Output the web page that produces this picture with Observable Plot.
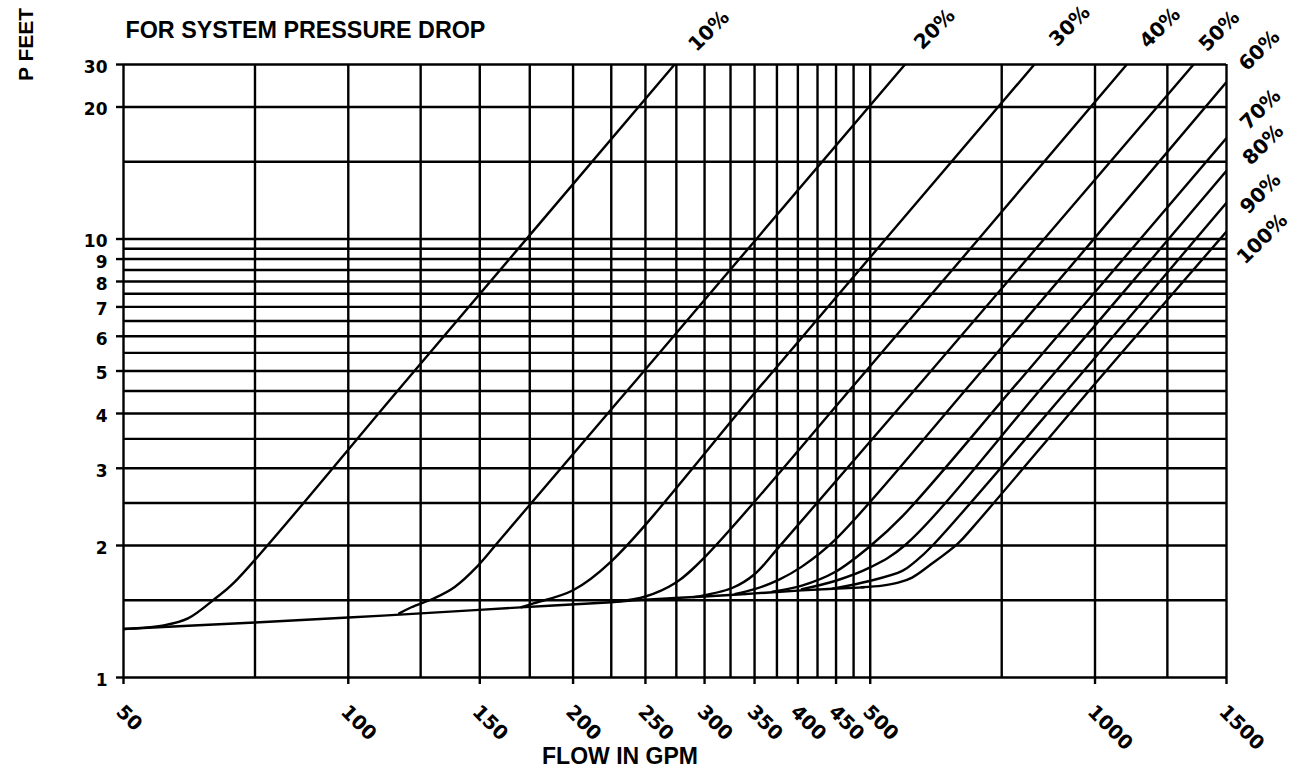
<!DOCTYPE html>
<html><head><meta charset="utf-8">
<script src="https://cdn.jsdelivr.net/npm/d3@7"></script>
<script src="https://cdn.jsdelivr.net/npm/@observablehq/plot@0.6"></script>
<style>body{margin:0;background:#fff}</style>
</head><body><div id="chart"></div>
<script>
// Axis ticks and grid
const xTicks = [50,100,150,200,250,300,350,400,450,500,1000,1500];
const xGrid = [50,75,100,125,150,175,200,225,250,275,300,325,350,375,400,425,450,475,500,750,1000,1250,1500];
const yTicks = [1,2,3,4,5,6,7,8,9,10,20,25];
const yTickLabels = ["1","2","3","4","5","6","7","8","9","10","20","30"];
const yGrid = [1,1.5,2,2.5,3,3.5,4,4.5,5,5.5,6,6.5,7,7.5,8,8.5,9,9.5,10,15,20,25];

// Curve names and label anchors (flow, feet)
const seriesNames = ["10%","20%","30%","40%","50%","60%","70%","80%","90%","100%"];
const labelFlow = [304,610,925,1222,1467,1660,1666,1680,1666,1675];
const labelFeet = [29.8,30.1,30.6,30.3,29.8,26.9,19.75,16.4,12.7,10.0];

// Common low-flow line
const baseFlow = [50,75,100,125,170,225,250,300,350,405,490];
const baseFeet = [1.29,1.335,1.37,1.40,1.445,1.485,1.505,1.53,1.555,1.58,1.605];

// Curves (flow GPM, feet)
const flow10 = [50,56.6,61,66.4,70.3,120,273.5];
const feet10 = [1.29,1.315,1.364,1.516,1.645,4.79,25];
const flow20 = [117,121.5,130.3,138.7,149.2,160,243.6,561];
const feet20 = [1.40,1.446,1.516,1.607,1.80,2.07,4.79,25.4];
const flow30 = [170.5,177.4,200,225,363,836];
const feet30 = [1.446,1.477,1.581,1.84,4.79,25.4];
const flow40 = [229,250,273.7,300,483,1103];
const feet40 = [1.49,1.53,1.64,1.88,4.79,25];
const flow50 = [290,326.6,350,377,590,1366];
const feet50 = [1.525,1.6,1.72,1.98,4.79,25.4];
const flow60 = [330,350,377,405,448.6,690,1500];
const feet60 = [1.55,1.59,1.67,1.79,2.06,4.79,22.8];
const flow70 = [370,405,448.6,501,552,795,1500];
const feet70 = [1.57,1.62,1.74,2.0,2.33,4.79,17.0];
const flow80 = [405,448.6,499,556,868,1500];
const feet80 = [1.59,1.66,1.78,2.0,4.79,14.3];
const flow90 = [445,499,552,575,606,945,1500];
const feet90 = [1.595,1.66,1.75,1.84,2.0,4.79,12.1];
const flow100 = [487,519,545,569,600,655,686,1012,1500];
const feet100 = [1.606,1.62,1.645,1.69,1.80,2.02,2.2,4.79,10.4];

const curveFlows = [baseFlow,flow10,flow20,flow30,flow40,flow50,flow60,flow70,flow80,flow90,flow100];
const curveFeet = [baseFeet,feet10,feet20,feet30,feet40,feet50,feet60,feet70,feet80,feet90,feet100];
const curveIds = ["base", ...seriesNames];

const rows = [];
curveFlows.forEach((fl, k) => fl.forEach((q, i) => rows.push({series: curveIds[k], flow: q, feet: curveFeet[k][i]})));
const labels = seriesNames.map((s, i) => ({text: s, flow: labelFlow[i], feet: labelFeet[i]}));

const boldFont = "Liberation Sans, Arial, sans-serif";
const tickFont = "DejaVu Sans, sans-serif";

const chart = Plot.plot({
  width: 1297,
  height: 773,
  marginLeft: 123,
  marginRight: 71,
  marginTop: 64,
  marginBottom: 96,
  style: {background: "white", color: "black", fontFamily: tickFont},
  x: {type: "log", domain: [50, 1500]},
  y: {type: "log", domain: [1, 25]},
  marks: [
    Plot.gridX(xGrid, {stroke: "black", strokeOpacity: 1, strokeWidth: 2.4}),
    Plot.gridY(yGrid, {stroke: "black", strokeOpacity: 1, strokeWidth: 2.4}),
    Plot.line(rows, {x: "flow", y: "feet", z: "series", curve: "catmull-rom", stroke: "black", strokeWidth: 2.4, clip: true}),
    // tick marks
    Plot.axisX(xTicks, {tickSize: 7, tickFormat: () => "", label: null, strokeWidth: 2.4}),
    Plot.axisY(yTicks, {tickSize: 7, tickFormat: () => "", label: null, strokeWidth: 2.4}),
    // tick labels
    Plot.axisX(xTicks, {tickSize: 0, tickPadding: 31, dx: -4, tickRotate: 45, fontSize: 19.5, fontWeight: "bold", tickFormat: d => String(d), label: null}),
    Plot.axisY(yTicks, {tickSize: 0, tickPadding: 16, dy: 3, fontSize: 17, fontWeight: "bold", tickFormat: d => yTickLabels[yTicks.indexOf(d)], label: null}),
    Plot.text(labels, {x: "flow", y: "feet", text: "text", rotate: -45, fontSize: 20, fontWeight: "bold"}),
    Plot.text(["FOR SYSTEM PRESSURE DROP"], {frameAnchor: "top-left", text: d => d, dx: 2, dy: -43, textAnchor: "start", fontWeight: "bold", fontSize: 23.3, fontFamily: boldFont}),
    Plot.text(["P FEET"], {frameAnchor: "top-left", text: d => d, dx: -105, dy: -20, rotate: -90, textAnchor: "middle", fontWeight: "bold", fontSize: 21, fontFamily: boldFont}),
    Plot.text(["FLOW IN GPM"], {frameAnchor: "bottom", text: d => d, dx: -55, dy: 86, textAnchor: "middle", fontWeight: "bold", fontSize: 23, fontFamily: boldFont})
  ]
});
document.getElementById("chart").appendChild(chart);
</script>
</body></html>
